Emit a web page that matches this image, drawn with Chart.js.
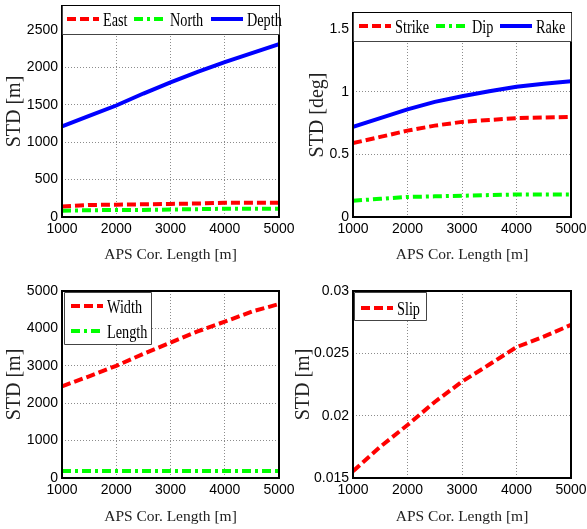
<!DOCTYPE html>
<html>
<head>
<meta charset="utf-8">
<script src="https://cdn.jsdelivr.net/npm/chart.js@4.4.1/dist/chart.umd.min.js"></script>
<style>
  body { margin: 0; background: #fff; }
  #wrap { position: relative; width: 587px; height: 529px; overflow: hidden; background: #fff; }
  .cell { position: absolute; }
</style>
</head>
<body>
<div id="wrap">
  <div class="cell" style="left:0;top:0"><canvas id="c1" width="295" height="265"></canvas></div>
  <div class="cell" style="left:290px;top:0"><canvas id="c2" width="297" height="265"></canvas></div>
  <div class="cell" style="left:0;top:265px"><canvas id="c3" width="295" height="264"></canvas></div>
  <div class="cell" style="left:290px;top:265px"><canvas id="c4" width="297" height="264"></canvas></div>
</div>
<script>
// APS correlation length [m]
const corLength = [1000, 1500, 2000, 2500, 3000, 3500, 4000, 4500, 5000];
const xTicks = [1000, 2000, 3000, 4000, 5000];

// location STD [m]
const eastStd  = [140, 160, 165, 170, 175, 180, 190, 190, 190];
const northStd = [85, 90, 95, 95, 100, 105, 110, 110, 110];
const depthStd = [1210, 1350, 1490, 1650, 1800, 1940, 2070, 2190, 2310];
const locTicks = [0, 500, 1000, 1500, 2000, 2500];

// angle STD [deg]
const strikeStd = [0.59, 0.64, 0.69, 0.73, 0.76, 0.775, 0.79, 0.795, 0.80];
const dipStd    = [0.13, 0.145, 0.16, 0.165, 0.17, 0.175, 0.18, 0.18, 0.18];
const rakeStd   = [0.72, 0.79, 0.86, 0.92, 0.965, 1.005, 1.04, 1.065, 1.085];
const angTicks = [0, 0.5, 1, 1.5];

// size STD [m]
const widthStd  = [2450, 2720, 3000, 3320, 3620, 3920, 4180, 4450, 4650];
const lengthStd = [190, 190, 190, 190, 190, 190, 190, 190, 190];
const sizeTicks = [0, 1000, 2000, 3000, 4000, 5000];

// slip STD [m]
const slipStd = [0.01555, 0.0175, 0.01925, 0.0211, 0.02273, 0.0241, 0.0255, 0.02634, 0.02728];
const slipTicks = [0.015, 0.02, 0.025, 0.03];

const RED = '#ff0000', GREEN = '#00ff00', BLUE = '#0000ff';
const DASH = [9, 4], DASHDOT = [9, 4, 3, 4];

function series(label, ys, color, dash) {
  return {
    label: label,
    data: corLength.map((x, i) => ({ x: x, y: ys[i] })),
    borderColor: color,
    borderWidth: 4,
    borderDash: dash,
    pointRadius: 0,
    fill: false,
    tension: 0
  };
}

// axes frame + matlab-style boxed legend
const boxLegend = {
  id: 'boxLegend',
  afterDatasetsDraw(chart, args, opts) {
    const ctx = chart.ctx, a = chart.chartArea;
    ctx.save();
    ctx.strokeStyle = '#000';
    ctx.lineWidth = 2;
    ctx.strokeRect(a.left, a.top, a.right - a.left, a.bottom - a.top);

    const [x0, y0, x1, y1] = opts.box;
    ctx.fillStyle = '#fff';
    ctx.fillRect(x0, y0, x1 - x0, y1 - y0);
    ctx.strokeStyle = '#444';
    ctx.lineWidth = 1;
    ctx.beginPath();
    if (opts.openTop) {
      ctx.moveTo(x0 + 0.5, y0);
      ctx.lineTo(x0 + 0.5, y1 + 0.5);
      ctx.lineTo(x1 + 0.5, y1 + 0.5);
      ctx.lineTo(x1 + 0.5, y0);
    } else {
      ctx.rect(x0 + 0.5, y0 + 0.5, x1 - x0, y1 - y0);
    }
    ctx.stroke();

    chart.data.datasets.forEach((ds, i) => {
      const [sx, sy] = opts.items[i];
      ctx.setLineDash(ds.borderDash || []);
      ctx.strokeStyle = ds.borderColor;
      ctx.lineWidth = 4;
      ctx.beginPath();
      ctx.moveTo(sx, sy);
      ctx.lineTo(sx + 32, sy);
      ctx.stroke();
      ctx.setLineDash([]);
      ctx.save();
      ctx.translate(sx + 36, sy + 2);
      ctx.scale(0.75, 1);
      ctx.font = '19px "Liberation Serif", "Times New Roman", serif';
      ctx.fillStyle = '#000';
      ctx.textBaseline = 'middle';
      ctx.fillText(ds.label, 0, 0);
      ctx.restore();
    });
    ctx.restore();
  }
};

const tickFont = { family: '"Liberation Sans Narrow", "Liberation Sans", Arial, sans-serif', size: 14 };
const serif = '"Liberation Serif", "Times New Roman", serif';
const asTicks = vals => s => { s.ticks = vals.map(v => ({ value: v })); };

function makeChart(id, datasets, y, g) {
  return new Chart(document.getElementById(id), {
    type: 'line',
    data: { datasets: datasets },
    plugins: [boxLegend],
    options: {
      responsive: false,
      animation: false,
      devicePixelRatio: 1,
      layout: { padding: { top: g.top, right: g.right, left: 0, bottom: 0 } },
      plugins: {
        legend: { display: false },
        tooltip: { enabled: false },
        boxLegend: g.legend
      },
      scales: {
        x: {
          type: 'linear',
          min: xTicks[0],
          max: xTicks[xTicks.length - 1],
          afterBuildTicks: asTicks(xTicks),
          ticks: {
            padding: 4,
            color: '#000',
            font: tickFont,
            maxRotation: 0,
            autoSkip: false,
            callback: v => String(v)
          },
          grid: { color: '#8c8c8c', lineWidth: 1, drawTicks: false },
          border: { display: false, dash: [1, 2] },
          title: {
            display: true,
            text: 'APS Cor. Length [m]',
            color: '#222',
            font: { family: serif, size: 15.5 },
            padding: { top: 0, bottom: g.xTitlePad }
          },
          afterFit: s => { s.height = g.xh; s.paddingLeft = 0; s.paddingRight = 0; }
        },
        y: {
          min: y.min,
          max: y.max,
          afterBuildTicks: asTicks(y.ticks),
          ticks: {
            padding: 4,
            color: '#000',
            font: tickFont,
            autoSkip: false,
            callback: v => String(+v.toFixed(4))
          },
          grid: { color: '#8c8c8c', lineWidth: 1, drawTicks: false },
          border: { display: false, dash: [1, 2] },
          title: {
            display: true,
            text: y.title,
            color: '#222',
            font: { family: serif, size: 20 },
            padding: { top: g.yTitlePad, bottom: 0 }
          },
          afterFit: s => { s.width = g.yw; s.paddingTop = 0; s.paddingBottom = 0; }
        }
      }
    }
  });
}

makeChart('c1', [
  series('East', eastStd, RED, DASH),
  series('North', northStd, GREEN, DASHDOT),
  series('Depth', depthStd, BLUE, [])
], { min: 0, max: 2820, ticks: locTicks, title: 'STD [m]' }, {
  top: 6, right: 16, yw: 62, xh: 48, xTitlePad: 1, yTitlePad: 3,
  legend: { box: [62, 6, 279, 34], openTop: true, items: [[67, 19], [134, 19], [211, 19]] }
});

makeChart('c2', [
  series('Strike', strikeStd, RED, DASH),
  series('Dip', dipStd, GREEN, DASHDOT),
  series('Rake', rakeStd, BLUE, [])
], { min: 0, max: 1.63, ticks: angTicks, title: 'STD [deg]' }, {
  top: 13, right: 16, yw: 63, xh: 48, xTitlePad: 1, yTitlePad: 16,
  legend: { box: [63, 13, 281, 41], openTop: true, items: [[69, 26], [146, 26], [210, 26]] }
});

makeChart('c3', [
  series('Width', widthStd, RED, DASH),
  series('Length', lengthStd, GREEN, DASHDOT)
], { min: 0, max: 5000, ticks: sizeTicks, title: 'STD [m]' }, {
  top: 26, right: 16, yw: 62, xh: 51, xTitlePad: 3, yTitlePad: 3,
  legend: { box: [64, 27, 151, 79], openTop: false, items: [[71, 41], [71, 66]] }
});

makeChart('c4', [
  series('Slip', slipStd, RED, DASH)
], { min: 0.015, max: 0.03, ticks: slipTicks, title: 'STD [m]' }, {
  top: 26, right: 16, yw: 63, xh: 51, xTitlePad: 3, yTitlePad: 2,
  legend: { box: [64, 27, 136, 55], openTop: false, items: [[71, 43]] }
});
</script>
</body>
</html>
